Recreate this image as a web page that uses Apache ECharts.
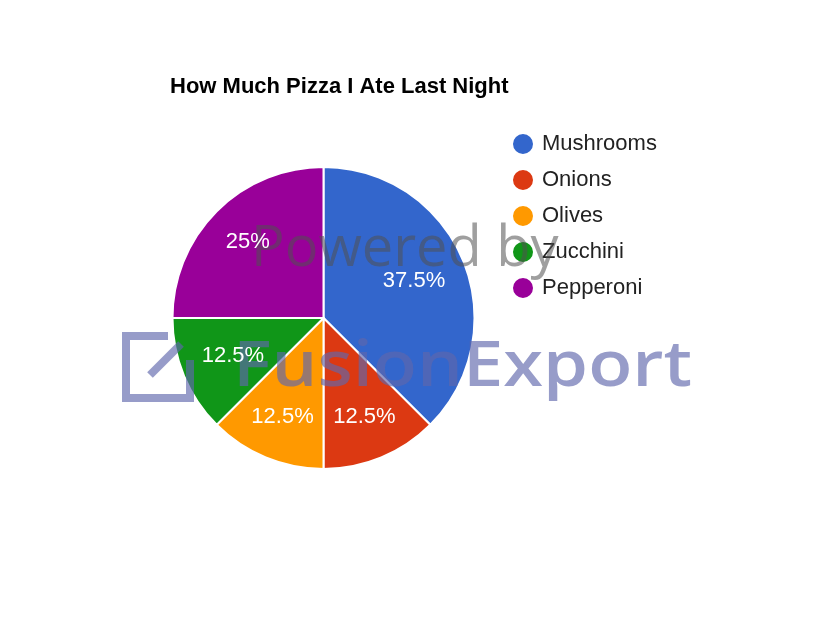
<!DOCTYPE html>
<html>
<head>
<meta charset="utf-8">
<script src="https://cdn.jsdelivr.net/npm/echarts@6/dist/echarts.min.js"></script>
<style>html,body{margin:0;padding:0;background:#fff}#c{width:816px;height:632px}</style>
</head>
<body>
<div id="c"></div>
<script>
const titleText = 'How Much Pizza I Ate Last Night';
const categories = ['Mushrooms', 'Onions', 'Olives', 'Zucchini', 'Pepperoni'];
const slices = [3, 1, 1, 1, 2];
const colors = ['#3366cc', '#dc3912', '#ff9900', '#109618', '#990099'];
// which labels sit nearer the centre (reference fits them tighter)
const nearLabels = ['Mushrooms', 'Zucchini'];

const chart = echarts.init(document.getElementById('c'), null, {renderer: 'canvas'});
const total = slices.reduce((a, b) => a + b, 0);
const data = categories.map((n, i) => ({name: n, value: slices[i], itemStyle: {color: colors[i]}}));
const font = 'Liberation Sans, Arial, sans-serif';

function labelSeries(outer, near) {
  return {
    type: 'pie', center: [323.5, 318], radius: [0, outer], startAngle: 90, clockwise: true,
    silent: true, legendHoverLink: false, z: 100,
    data: data.map(d => ({name: d.name, value: d.value, itemStyle: {color: 'rgba(0,0,0,0)'},
                          label: {show: nearLabels.includes(d.name) === near}})),
    itemStyle: {borderWidth: 0},
    labelLine: {show: false}, emphasis: {disabled: true},
    label: {
      position: 'inside', color: '#fff', fontFamily: font, fontSize: 22,
      formatter: p => (Math.round(p.value / total * 1000) / 10) + '%'
    }
  };
}

chart.setOption({
  animation: false,
  color: colors,
  title: {
    text: titleText, left: 170, top: 76, padding: 0,
    textStyle: {fontFamily: font, fontSize: 22, fontWeight: 'bold', color: '#000'}
  },
  legend: {
    orient: 'vertical', left: 511, top: 132, padding: 0,
    icon: 'circle', itemWidth: 22, itemHeight: 22, itemGap: 12,
    data: categories,
    textStyle: {fontFamily: font, fontSize: 22, color: '#222', padding: [0, 0, 0, 3]}
  },
  graphic: [
    {type: 'text', z: 50, silent: true, left: 251, top: 222,
     style: {text: 'Powered by', fontFamily: 'Open Sans, sans-serif', fontSize: 56, fill: 'rgba(80,80,80,0.55)'}},
    {type: 'text', z: 50, silent: true, x: 233, y: 336, scaleX: 1.13,
     style: {text: 'FusionExport', fontFamily: 'Open Sans, sans-serif', fontWeight: 600, fontSize: 64, fill: 'rgba(95,103,172,0.65)'}},
    {type: 'polyline', z: 50, silent: true,
     shape: {points: [[168, 336], [126, 336], [126, 398], [190, 398], [190, 360]]},
     style: {stroke: 'rgba(95,103,172,0.65)', lineWidth: 8, fill: null}},
    {type: 'line', z: 50, silent: true,
     shape: {x1: 150, y1: 375, x2: 181, y2: 344},
     style: {stroke: 'rgba(95,103,172,0.65)', lineWidth: 8}}
  ],
  series: [
    {
      type: 'pie', center: [323.5, 318], radius: 151, startAngle: 90, clockwise: true,
      data: data, label: {show: false}, labelLine: {show: false},
      itemStyle: {borderColor: '#fff', borderWidth: 2}, emphasis: {disabled: true}, z: 2
    },
    labelSeries(190, true),
    labelSeries(208, false)
  ]
});
</script>
</body>
</html>
